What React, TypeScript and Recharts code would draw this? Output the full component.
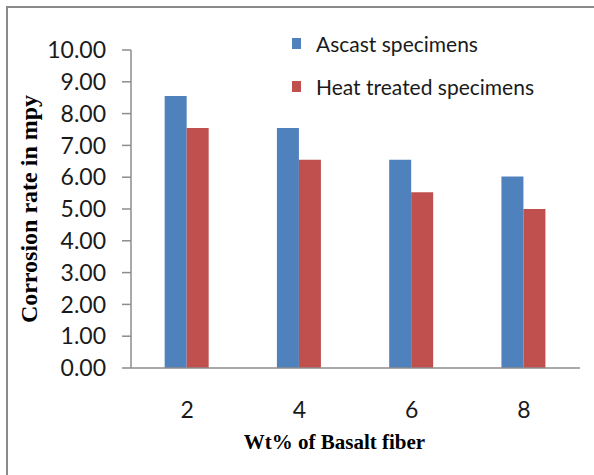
import React from "react";
import { BarChart, Bar, XAxis, YAxis, Legend, Label } from "recharts";

const categories = ["2", "4", "6", "8"];
const ascast = [8.55, 7.55, 6.55, 6.02];
const heatTreated = [7.55, 6.55, 5.53, 5.0];
const yTicks = [0, 1, 2, 3, 4, 5, 6, 7, 8, 9, 10];

const data = categories.map((c, i) => ({
  name: c,
  ascast: ascast[i],
  heat: heatTreated[i],
}));

const tickFont = { fontFamily: "Lato, 'Open Sans', sans-serif", fontSize: 23, fill: "#1a1a1a" };

const LegendContent = (props: any) => {
  const { payload } = props;
  return (
    <div style={{ fontFamily: "Lato, 'Open Sans', sans-serif", fontSize: 21, color: "#1a1a1a" }}>
      {payload.map((p: any, i: number) => (
        <div key={i} style={{ display: "flex", alignItems: "center", height: 43 }}>
          <span style={{ display: "inline-block", width: 9, height: 11, background: p.color, marginRight: 15 }} />
          <span>{p.value}</span>
        </div>
      ))}
    </div>
  );
};

export default function App() {
  return (
    <div style={{ position: "fixed", left: 0, top: 0, width: 594, height: 475, background: "#fff", overflow: "hidden" }}>
      <div style={{ position: "absolute", left: 6, top: 6, width: 620, height: 520, border: "2px solid #8a8a8a", boxSizing: "border-box" }} />
      <div style={{ position: "absolute", left: 0, top: 0 }}>
        <BarChart
          width={594}
          height={475}
          data={data}
          margin={{ top: 50, right: 14, left: 0, bottom: 0 }}
          barCategoryGap="30%"
          barGap={0}
        >
          <XAxis
            dataKey="name"
            height={107}
            tickLine={false}
            axisLine={{ stroke: "#8c8c8c", strokeWidth: 1.5 }}
            tick={tickFont}
            tickMargin={28}
          >
            <Label
              value="Wt% of Basalt fiber"
              position="insideBottom"
              offset={26}
              dx={-21}
              style={{ fontFamily: "'Liberation Serif', 'Times New Roman', serif", fontWeight: "bold", fontSize: 21, fill: "#000" }}
            />
          </XAxis>
          <YAxis
            width={131}
            domain={[0, 10]}
            ticks={yTicks}
            interval={0}
            tickFormatter={(v: number) => v.toFixed(2)}
            axisLine={{ stroke: "#8c8c8c", strokeWidth: 1.5 }}
            tickLine={{ stroke: "#8c8c8c", strokeWidth: 1.5 }}
            tickSize={9}
            tickMargin={16}
            tick={tickFont}
          >
            <Label
              value="Corrosion rate in mpy"
              angle={-90}
              position="insideLeft"
              offset={0}
              dx={28}
              style={{ textAnchor: "middle", fontFamily: "'Liberation Serif', 'Times New Roman', serif", fontWeight: "bold", fontSize: 24, fill: "#000" }}
            />
          </YAxis>
          <Legend
            layout="vertical"
            verticalAlign="middle"
            align="center"
            content={<LegendContent />}
            wrapperStyle={{ position: "absolute", left: 292, top: 22, width: 290 }}
          />
          <Bar dataKey="ascast" name="Ascast specimens" fill="#4F81BD" isAnimationActive={false} />
          <Bar dataKey="heat" name="Heat treated specimens" fill="#C0504D" isAnimationActive={false} />
        </BarChart>
      </div>
    </div>
  );
}
